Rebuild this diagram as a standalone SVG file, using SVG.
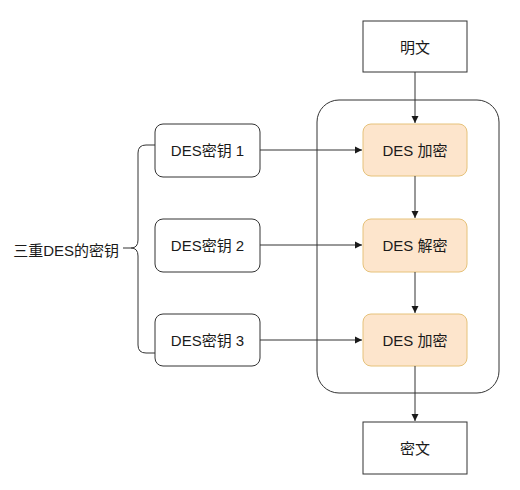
<svg xmlns="http://www.w3.org/2000/svg" width="520" height="490" viewBox="0 0 520 490">
<defs>
<style>
text{font-family:"Liberation Sans","Noto Sans CJK SC",sans-serif;font-size:15px;fill:#1a1a1a;text-anchor:middle;dominant-baseline:central}
.box{fill:#fff;stroke:#333;stroke-width:1}
.enc{fill:#fde5cc;stroke:#e6c27a;stroke-width:1}
.ln{fill:none;stroke:#333;stroke-width:1}
</style>
<marker id="ah" markerWidth="8" markerHeight="8" refX="7" refY="4" orient="auto" markerUnits="userSpaceOnUse">
<path d="M0,0.5 L7,4 L0,7.5 Z" fill="#1a1a1a"/>
</marker>
</defs>
<rect width="520" height="490" fill="#fff"/>
<g id="container"><rect x="317" y="100" width="182" height="293" rx="22" class="ln"/></g>
<g id="plain"><rect x="363" y="21" width="104" height="51" class="box"/><text x="415" y="47">明文</text></g>
<g id="cipher"><rect x="363" y="422" width="104" height="52" class="box"/><text x="415" y="448">密文</text></g>
<g id="enc1"><rect x="363" y="124" width="104" height="52" rx="8" class="enc"/><text x="415" y="150">DES 加密</text></g>
<g id="dec"><rect x="363" y="219" width="104" height="53" rx="8" class="enc"/><text x="415" y="245">DES 解密</text></g>
<g id="enc2"><rect x="363" y="314" width="104" height="52" rx="8" class="enc"/><text x="415" y="340">DES 加密</text></g>
<g id="key1"><rect x="155" y="124" width="105" height="53" rx="8" class="box"/><text x="207.5" y="150">DES密钥 1</text></g>
<g id="key2"><rect x="155" y="219" width="105" height="53" rx="8" class="box"/><text x="207.5" y="245">DES密钥 2</text></g>
<g id="key3"><rect x="155" y="314" width="105" height="52" rx="8" class="box"/><text x="207.5" y="340">DES密钥 3</text></g>
<g id="label"><text x="119" y="250" style="text-anchor:end">三重DES的密钥</text></g>
<g id="connectors">
<path class="ln" d="M155,145 H146 Q138,145 138,153 V240 Q138,248 131,248 Q138,248 138,256 V345 Q138,353 146,353 H155 M123,248 H131"/>
<line class="ln" x1="260" y1="150" x2="362" y2="150" marker-end="url(#ah)"/>
<line class="ln" x1="260" y1="245" x2="362" y2="245" marker-end="url(#ah)"/>
<line class="ln" x1="260" y1="340" x2="362" y2="340" marker-end="url(#ah)"/>
<line class="ln" x1="415" y1="72" x2="415" y2="123" marker-end="url(#ah)"/>
<line class="ln" x1="415" y1="176" x2="415" y2="218" marker-end="url(#ah)"/>
<line class="ln" x1="415" y1="272" x2="415" y2="313" marker-end="url(#ah)"/>
<line class="ln" x1="415" y1="366" x2="415" y2="421" marker-end="url(#ah)"/>
</g>
</svg>
